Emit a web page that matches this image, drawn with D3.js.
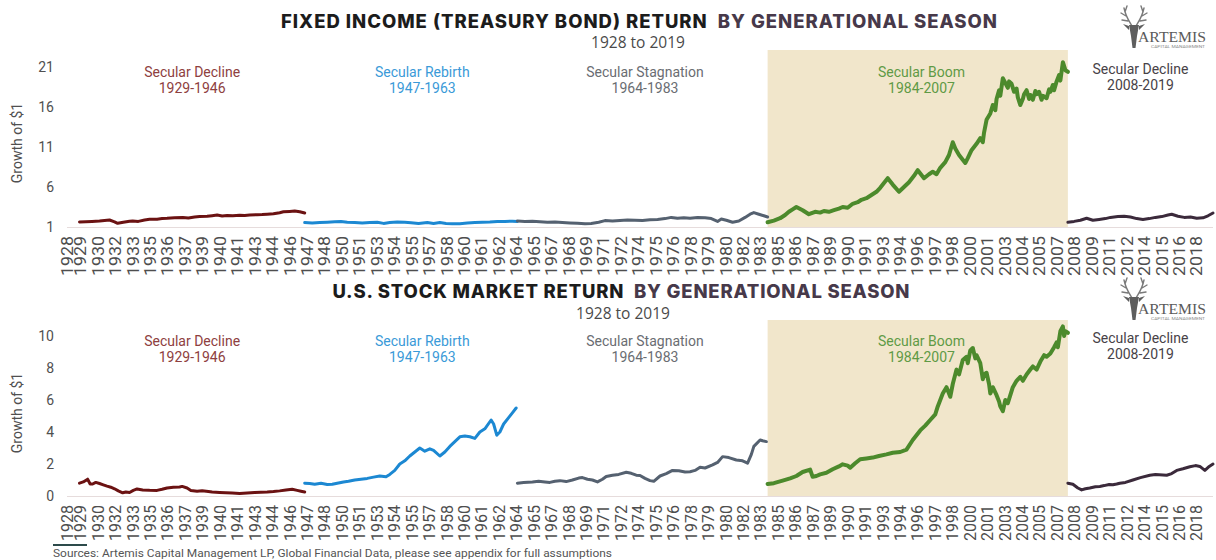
<!DOCTYPE html>
<html>
<head>
<meta charset="utf-8">
<script src="https://cdn.jsdelivr.net/npm/d3@7"></script>
<style>
html, body { margin: 0; padding: 0; background: #fff; }
svg { display: block; font-family: Roboto, "Liberation Sans", sans-serif; }
</style>
</head>
<body>
<script>
// ---------- data ----------
const xTickLabels = ["1928","1929","1930","1932","1933","1935","1936","1937","1939","1940","1941","1943","1944","1946",
  "1947","1948","1950","1951","1953","1954","1955","1957","1958","1960","1961","1962","1964","1965","1967","1968",
  "1969","1971","1972","1974","1975","1976","1978","1979","1980","1982","1983","1985","1986","1987","1989","1990",
  "1991","1993","1994","1996","1997","1998","2000","2001","2003","2004","2005","2007","2008","2009","2011","2012",
  "2014","2015","2016","2018"];

const periodNames = ["Secular Decline", "Secular Rebirth", "Secular Stagnation", "Secular Boom", "Secular Decline"];
const periodRanges = ["1929-1946", "1947-1963", "1964-1983", "1984-2007", "2008-2019"];
const periodLabelYear = [1938, 1956.4, 1974.2, 1996.3, 2013.8];
const boomPeriod = [1984, 2008];

const bondTicks = [1, 6, 11, 16, 21];
const stockTicks = [0, 2, 4, 6, 8, 10];

// Fixed income (treasury bond), growth of $1, [year, value]
const bondDecline1 = [[1929.0,1.62],[1929.5,1.66],[1930.0,1.7],[1930.6,1.75],[1931.0,1.82],[1931.4,1.87],[1931.8,1.65],
  [1932.05,1.46],[1932.5,1.6],[1933.0,1.72],[1933.25,1.75],[1933.7,1.7],[1934.2,1.88],[1934.6,1.96],[1935.2,1.98],
  [1935.6,2.05],[1936.0,2.08],[1936.6,2.15],[1937.25,2.2],[1937.7,2.12],[1938.2,2.25],[1938.6,2.3],[1939.2,2.35],
  [1939.6,2.42],[1940.0,2.5],[1940.4,2.38],[1940.8,2.45],[1941.25,2.4],[1941.8,2.48],[1942.2,2.45],[1942.6,2.5],
  [1943.2,2.53],[1943.6,2.55],[1944.0,2.6],[1944.5,2.65],[1945.0,2.78],[1945.3,2.9],[1945.8,2.95],[1946.2,3.0],
  [1946.6,2.9],[1947.0,2.75]];
const bondRebirth = [[1947.0,1.55],[1947.6,1.5],[1948.2,1.55],[1948.8,1.6],[1949.4,1.65],[1949.9,1.7],[1950.4,1.6],
  [1951.0,1.55],[1951.6,1.5],[1952.2,1.55],[1952.8,1.6],[1953.3,1.45],[1953.8,1.55],[1954.4,1.62],[1955.0,1.58],
  [1955.5,1.52],[1956.1,1.45],[1956.8,1.55],[1957.3,1.45],[1957.8,1.55],[1958.3,1.45],[1958.8,1.4],[1959.4,1.42],
  [1960.0,1.5],[1960.6,1.55],[1961.2,1.6],[1961.8,1.62],[1962.4,1.68],[1963.0,1.7],[1963.6,1.72],[1964.0,1.7]];
const bondStagnation = [[1964.0,1.75],[1964.6,1.7],[1965.2,1.72],[1965.8,1.67],[1966.4,1.6],[1967.0,1.62],[1967.6,1.55],
  [1968.2,1.5],[1968.8,1.46],[1969.4,1.4],[1969.9,1.45],[1970.5,1.6],[1971.0,1.8],[1971.6,1.75],[1972.2,1.82],
  [1972.8,1.87],[1973.4,1.85],[1974.0,1.8],[1974.6,1.9],[1975.2,1.95],[1975.8,2.05],[1976.3,2.2],[1976.8,2.1],
  [1977.3,2.15],[1977.8,2.08],[1978.4,2.2],[1979.0,2.15],[1979.5,2.05],[1980.0,1.7],[1980.3,2.0],[1980.7,1.85],
  [1981.2,1.6],[1981.7,1.75],[1982.2,2.2],[1982.6,2.6],[1982.9,2.8],[1983.3,2.6],[1983.7,2.4],[1984.0,2.25]];
const bondBoom = [[1984.0,1.6],[1984.5,1.8],[1985.0,2.1],[1985.4,2.5],[1985.7,2.9],[1986.0,3.2],[1986.3,3.5],[1986.8,3.1],
  [1987.3,2.6],[1987.8,2.9],[1988.2,2.8],[1988.5,3.0],[1988.9,2.9],[1989.3,3.1],[1989.7,3.3],[1990.0,3.5],[1990.4,3.4],
  [1990.8,3.9],[1991.2,4.1],[1991.5,4.4],[1991.9,4.6],[1992.3,5.0],[1992.7,5.4],[1993.0,5.9],[1993.3,6.5],[1993.6,7.1],
  [1994.0,6.3],[1994.5,5.4],[1994.9,6.0],[1995.3,6.6],[1995.7,7.4],[1996.0,8.1],[1996.5,7.1],[1996.9,7.6],[1997.2,7.9],
  [1997.5,7.6],[1997.8,8.4],[1998.2,9.1],[1998.5,10.0],[1998.8,11.6],[1999.0,10.8],[1999.3,10.0],[1999.8,9.0],
  [2000.0,9.6],[2000.3,10.6],[2000.7,11.4],[2001.0,12.1],[2001.2,11.6],[2001.3,12.8],[2001.5,14.4],[2001.8,15.2],
  [2002.0,16.25],[2002.2,15.6],[2002.3,17.0],[2002.5,18.1],[2002.6,17.4],[2002.8,19.6],[2003.0,19.0],[2003.2,18.4],
  [2003.3,19.2],[2003.5,18.9],[2003.7,17.9],[2003.9,18.3],[2004.0,17.2],[2004.2,16.25],[2004.4,17.0],[2004.5,17.6],
  [2004.7,18.1],[2004.9,17.0],[2005.0,17.5],[2005.2,16.9],[2005.4,18.0],[2005.5,17.6],[2005.7,17.9],[2005.9,16.9],
  [2006.0,17.4],[2006.3,17.1],[2006.5,18.2],[2006.6,17.9],[2006.8,18.75],[2006.9,18.1],[2007.1,19.2],[2007.3,20.0],
  [2007.4,19.3],[2007.6,21.6],[2007.8,20.6],[2008.0,20.4]];
const bondDecline2 = [[2008.0,1.6],[2008.5,1.7],[2009.0,1.85],[2009.5,2.1],[2010.0,1.85],[2010.5,1.95],[2011.0,2.05],
  [2011.4,2.2],[2012.0,2.3],[2012.5,2.35],[2013.0,2.25],[2013.5,2.05],[2014.0,1.95],[2014.5,2.05],[2015.0,2.2],
  [2015.5,2.3],[2016.0,2.5],[2016.3,2.6],[2016.8,2.35],[2017.3,2.2],[2017.8,2.25],[2018.3,2.1],[2018.8,2.15],
  [2019.2,2.4],[2019.6,2.75]];

// U.S. stock market, growth of $1, [year, value]
const stockDecline1 = [[1929.0,0.8],[1929.3,0.88],[1929.65,1.05],[1929.85,0.75],[1930.05,0.75],[1930.3,0.85],[1930.6,0.78],
  [1930.9,0.7],[1931.2,0.62],[1931.5,0.55],[1931.8,0.45],[1932.1,0.32],[1932.45,0.2],[1932.7,0.25],[1933.0,0.22],
  [1933.3,0.35],[1933.6,0.44],[1934.05,0.38],[1934.6,0.36],[1935.2,0.35],[1935.6,0.42],[1936.0,0.5],[1936.5,0.55],
  [1937.0,0.56],[1937.2,0.6],[1937.6,0.5],[1937.9,0.35],[1938.4,0.3],[1938.8,0.33],[1939.3,0.28],[1939.6,0.25],
  [1940.2,0.22],[1940.7,0.2],[1941.2,0.18],[1941.8,0.15],[1942.4,0.18],[1943.0,0.22],[1943.5,0.24],[1944.0,0.25],
  [1944.5,0.28],[1945.0,0.32],[1945.5,0.38],[1946.0,0.42],[1946.4,0.35],[1946.7,0.3],[1947.0,0.25]];
const stockRebirth = [[1947.0,0.8],[1947.4,0.78],[1947.8,0.74],[1948.3,0.8],[1948.8,0.72],[1949.2,0.73],[1949.6,0.8],
  [1950.1,0.88],[1950.5,0.92],[1951.0,1.0],[1951.5,1.05],[1952.0,1.1],[1952.5,1.18],[1953.0,1.25],[1953.5,1.2],
  [1953.8,1.35],[1954.2,1.6],[1954.6,2.0],[1955.0,2.2],[1955.4,2.5],[1955.8,2.75],[1956.2,3.0],[1956.6,2.8],
  [1957.0,2.95],[1957.3,2.85],[1957.8,2.5],[1958.2,2.75],[1958.6,3.1],[1959.0,3.4],[1959.4,3.7],[1959.8,3.75],
  [1960.2,3.7],[1960.6,3.6],[1961.0,4.0],[1961.4,4.2],[1961.9,4.75],[1962.1,4.5],[1962.35,3.8],[1962.6,4.0],
  [1962.9,4.5],[1963.3,4.9],[1963.6,5.2],[1963.9,5.5]];
const stockStagnation = [[1964.0,0.8],[1964.5,0.84],[1965.2,0.88],[1965.7,0.92],[1966.2,0.88],[1966.6,0.85],[1967.0,0.92],
  [1967.4,0.96],[1967.9,0.9],[1968.4,1.0],[1968.9,1.12],[1969.2,1.15],[1969.6,1.05],[1970.0,1.0],[1970.4,0.88],
  [1970.8,1.05],[1971.1,1.22],[1971.6,1.3],[1972.1,1.35],[1972.7,1.48],[1973.1,1.42],[1973.5,1.3],[1973.8,1.28],
  [1974.2,1.1],[1974.6,0.96],[1974.9,0.92],[1975.4,1.25],[1975.9,1.4],[1976.4,1.6],[1976.9,1.58],[1977.4,1.5],
  [1977.8,1.52],[1978.2,1.6],[1978.6,1.8],[1979.0,1.75],[1979.6,1.94],[1980.0,2.1],[1980.4,2.46],[1980.9,2.4],
  [1981.5,2.25],[1982.0,2.2],[1982.4,2.05],[1982.7,2.6],[1982.9,3.1],[1983.4,3.5],[1983.6,3.45],[1983.9,3.4]];
const stockBoom = [[1984.0,0.75],[1984.5,0.8],[1985.2,0.96],[1985.8,1.1],[1986.3,1.25],[1986.8,1.5],[1987.4,1.65],
  [1987.6,1.2],[1987.9,1.25],[1988.2,1.35],[1988.7,1.45],[1989.2,1.67],[1989.7,1.85],[1990.0,1.98],[1990.4,1.9],
  [1990.6,1.77],[1991.0,2.05],[1991.4,2.3],[1991.9,2.35],[1992.4,2.4],[1992.9,2.5],[1993.5,2.6],[1994.0,2.7],
  [1994.6,2.75],[1995.1,2.9],[1995.6,3.5],[1996.2,4.1],[1996.6,4.4],[1997.0,4.75],[1997.4,5.1],[1997.6,5.6],
  [1997.8,6.0],[1998.0,6.4],[1998.3,6.8],[1998.6,6.2],[1998.8,7.0],[1999.1,7.9],[1999.3,7.6],[1999.6,8.5],
  [1999.9,8.7],[2000.0,8.3],[2000.2,9.1],[2000.4,9.25],[2000.6,8.6],[2000.7,8.8],[2001.0,8.3],[2001.2,7.3],
  [2001.3,7.6],[2001.5,7.7],[2001.7,7.0],[2001.8,6.4],[2002.0,6.8],[2002.3,6.3],[2002.5,5.9],[2002.6,5.6],
  [2002.8,5.3],[2003.0,6.0],[2003.2,5.8],[2003.4,6.3],[2003.6,6.8],[2003.9,7.2],[2004.2,7.45],[2004.4,7.2],
  [2004.7,7.6],[2005.0,7.9],[2005.2,8.1],[2005.5,7.9],[2005.8,8.4],[2006.1,8.8],[2006.3,8.7],[2006.6,8.9],
  [2006.9,9.3],[2007.1,9.6],[2007.2,9.3],[2007.4,10.3],[2007.6,10.6],[2007.7,10.0],[2007.8,10.3],[2008.0,10.2]];
const stockDecline2 = [[2008.0,0.8],[2008.4,0.73],[2008.8,0.5],[2009.1,0.38],[2009.4,0.45],[2009.75,0.5],[2010.2,0.58],
  [2010.55,0.6],[2010.9,0.65],[2011.3,0.72],[2011.6,0.7],[2011.9,0.75],[2012.15,0.8],[2012.6,0.85],[2013.2,1.0],
  [2013.8,1.15],[2014.55,1.3],[2015.0,1.35],[2015.6,1.32],[2015.9,1.3],[2016.3,1.4],[2016.7,1.6],[2017.2,1.7],
  [2017.75,1.83],[2018.2,1.9],[2018.55,1.85],[2018.95,1.6],[2019.3,1.85],[2019.6,2.0]];

// ---------- styles ----------
const labelColors = ["#8e4040", "#3a9ad8", "#6a6d72", "#5f9a45", "#474247"];
const lineColors = ["#6b1212", "#1c88d2", "#556170", "#4c8a2c", "#3b2a3b"];

const width = 1216, height = 560;
const svg = d3.select("body").append("svg")
    .attr("width", width)
    .attr("height", height);

// x: fractional years
const x = d3.scaleLinear().domain([1928, 2019.6]).range([67, 1213]);

// tick labels sit on an evenly spaced grid, the first one at the axis start
const tickStep = 17.44, firstTick = 80;
const tickX = d3.scaleOrdinal()
    .domain(xTickLabels)
    .range(xTickLabels.map((d, i) => i === 0 ? x(1928) : firstTick + (i - 1) * tickStep));

function drawLogo(x0, y0) {
    const g = svg.append("g").attr("transform", `translate(${x0},${y0})`);
    g.append("path")
        .attr("d", "M13,22 C10,16 6,12 4,2 M6,10 L1,7 M8,15 L2,14 M5,6 L7,0 M15,22 C18,16 22,12 24,2 M22,10 L27,7 M20,15 L26,14 M23,6 L21,0")
        .attr("fill", "none").attr("stroke", "#7a7a7a").attr("stroke-width", 1.4).attr("stroke-linecap", "round");
    g.append("path")
        .attr("d", "M9,19 L19,19 L17,30 L15.5,42 L12.5,42 L11,30 Z M9,20 L3,18 L9,24 Z M19,20 L25,18 L19,24 Z")
        .attr("fill", "#5e5e5e");
    g.append("text").attr("x", 18).attr("y", 36)
        .attr("font-family", "'Liberation Serif', 'DejaVu Serif', serif")
        .attr("font-size", 15).attr("fill", "#5a5a5a")
        .attr("textLength", 68).attr("lengthAdjust", "spacingAndGlyphs")
        .text("ARTEMIS");
    g.append("text").attr("x", 31).attr("y", 41.5)
        .attr("font-size", 3.5).attr("fill", "#8a8a8a")
        .attr("textLength", 54).attr("lengthAdjust", "spacingAndGlyphs")
        .text("CAPITAL MANAGEMENT");
}

function drawPanel(p) {
    const y = d3.scaleLinear().domain(p.yDomain).range([p.bottom, p.top]);

    // title
    const t = svg.append("text")
        .attr("x", p.titleX).attr("y", p.titleY)
        .attr("text-anchor", "middle")
        .attr("font-family", "Inter, 'Open Sans', sans-serif")
        .attr("font-weight", 800).attr("font-size", 18.5)
        .attr("textLength", p.titleWidth).attr("lengthAdjust", "spacing");
    t.append("tspan").attr("fill", "#1c1c1c").text(p.title);
    t.append("tspan").attr("fill", "#47394a").text("\u00a0\u00a0BY GENERATIONAL SEASON");

    svg.append("text")
        .attr("x", p.subX).attr("y", p.subY)
        .attr("text-anchor", "middle")
        .attr("font-family", "'Open Sans', sans-serif")
        .attr("font-size", 15.5).attr("fill", "#4a4a4a")
        .text("1928 to 2019");

    // shaded boom season
    svg.append("rect")
        .attr("x", x(boomPeriod[0]))
        .attr("width", x(boomPeriod[1]) - x(boomPeriod[0]))
        .attr("y", p.top)
        .attr("height", p.bottom - p.top)
        .attr("fill", "#f1e6cb");

    // baseline
    svg.append("line")
        .attr("x1", x.range()[0]).attr("x2", x.range()[1])
        .attr("y1", p.bottom + 0.5).attr("y2", p.bottom + 0.5)
        .attr("stroke", "#e6dcdc");

    // y axis
    const ya = svg.append("g")
        .attr("transform", "translate(54,0)")
        .call(d3.axisLeft(y).tickValues(p.ticks).tickSize(0).tickPadding(0));
    ya.select(".domain").remove();
    ya.selectAll("text")
        .attr("font-family", "Roboto, sans-serif")
        .attr("font-size", 14).attr("fill", "#505050");

    svg.append("text")
        .attr("transform", `translate(22,${p.yTitleY}) rotate(-90)`)
        .attr("text-anchor", "middle")
        .attr("font-size", 14).attr("fill", "#505050")
        .text("Growth of $1");

    // x axis
    const xa = svg.append("g")
        .attr("transform", `translate(0,${p.bottom})`)
        .call(d3.axisBottom(tickX).tickSize(0).tickPadding(0));
    xa.select(".domain").remove();
    xa.selectAll("text")
        .attr("transform", "rotate(-90)")
        .attr("text-anchor", "end")
        .attr("x", -9).attr("y", 0).attr("dy", "0.36em")
        .attr("font-family", "Roboto, sans-serif")
        .attr("font-size", 16).attr("fill", "#4e4e4e")
        .attr("textLength", p.tickLen).attr("lengthAdjust", "spacingAndGlyphs");

    // lines
    const line = d3.line().x(d => x(d[0])).y(d => y(d[1]));
    p.series.forEach((s, i) => {
        svg.append("path")
            .datum(s)
            .attr("d", line)
            .attr("fill", "none")
            .attr("stroke", lineColors[i])
            .attr("stroke-width", i === 3 ? 4 : 3)
            .attr("stroke-linejoin", "round")
            .attr("stroke-linecap", "round");
    });

    // season labels
    periodNames.forEach((name, i) => {
        const ly = i === 4 ? p.labelY - 3 : p.labelY;
        const lab = svg.append("text")
            .attr("text-anchor", "middle")
            .attr("font-size", 14)
            .attr("fill", labelColors[i]);
        lab.append("tspan").attr("x", x(periodLabelYear[i])).attr("y", ly).text(name);
        lab.append("tspan").attr("x", x(periodLabelYear[i])).attr("y", ly + 15.5).text(periodRanges[i]);
    });

    drawLogo(1120, p.logoY);
}

drawPanel({
    title: "FIXED INCOME (TREASURY BOND) RETURN",
    titleX: 639, titleY: 28, titleWidth: 716,
    subX: 638, subY: 48,
    top: 50, bottom: 227, yDomain: [1, 23.125], ticks: bondTicks,
    yTitleY: 143, labelY: 77, logoY: 6, tickLen: 40,
    series: [bondDecline1, bondRebirth, bondStagnation, bondBoom, bondDecline2]
});

drawPanel({
    title: "U.S. STOCK MARKET RETURN",
    titleX: 621, titleY: 298, titleWidth: 577,
    subX: 623, subY: 319,
    top: 320, bottom: 496, yDomain: [0, 11], ticks: stockTicks,
    yTitleY: 413, labelY: 346, logoY: 278, tickLen: 36,
    series: [stockDecline1, stockRebirth, stockStagnation, stockBoom, stockDecline2]
});

// source note
svg.append("line")
    .attr("x1", 53).attr("x2", 87).attr("y1", 545).attr("y2", 545)
    .attr("stroke", "#2d4b4b").attr("stroke-width", 2);
svg.append("text")
    .attr("x", 53).attr("y", 557)
    .attr("font-size", 11).attr("fill", "#555")
    .attr("textLength", 559).attr("lengthAdjust", "spacingAndGlyphs")
    .text("Sources: Artemis Capital Management LP, Global Financial Data, please see appendix for full assumptions");
</script>
</body>
</html>
